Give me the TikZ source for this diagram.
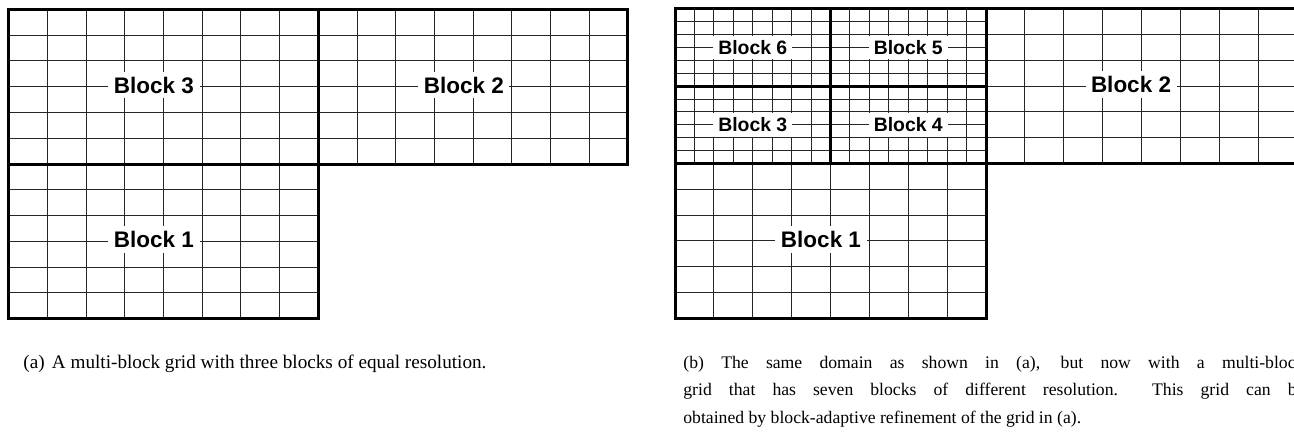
\documentclass[tikz,border=0pt]{standalone}
\usepackage{fontspec}
\setmainfont{Liberation Serif}
\newfontfamily\labelfont{Liberation Sans}
\usepackage{tikz}

% one block of the mesh: x0, y0, width, height, columns, rows
\newcommand{\meshblock}[6]{%
  \foreach \i in {1,...,#5}
    \draw[meshline] ({#1+\i*#3/#5},#2) -- ++(0,#4);
  \foreach \j in {1,...,#6}
    \draw[meshline] (#1,{#2+\j*#4/#6}) -- ++(#3,0);
  \draw[blockline] (#1,#2) rectangle ++(#3,#4);
}

\begin{document}
\begin{tikzpicture}[
    x=0.5pt, y=-0.5pt,
    meshline/.style={draw=black!85, line width=0.5pt},
    blockline/.style={draw=black, line width=1.5pt},
    biglabel/.style={fill=white, inner xsep=2.75pt, inner ysep=2.6pt,
                     font=\labelfont\bfseries\fontsize{11.25}{13}\selectfont},
    smalllabel/.style={fill=white, inner xsep=2.5pt, inner ysep=2.3pt,
                       font=\labelfont\bfseries\fontsize{9.7}{11}\selectfont},
    caption/.style={inner sep=0pt, font=\fontsize{9.6}{13.75}\selectfont}
]
    \clip (0,0) rectangle (1294,433);

    % (a) three blocks, equal resolution
    \meshblock{8.7}{9.3}{309.6}{154.7}{8}{6}
    \meshblock{318.3}{9.3}{309.6}{154.7}{8}{6}
    \meshblock{8.7}{164}{309.6}{154.7}{8}{6}
    \node[biglabel] (a3) at (154,85) {Block 3};
    \node[biglabel] (a2) at (463.8,85) {Block 2};
    \node[biglabel] (a1) at (154,239.7) {Block 1};

    % (b) block 3 of (a) split into four finer blocks
    \meshblock{675}{9}{155.5}{77.25}{8}{6}
    \meshblock{830.5}{9}{155.5}{77.25}{8}{6}
    \meshblock{675}{86.25}{155.5}{77.25}{8}{6}
    \meshblock{830.5}{86.25}{155.5}{77.25}{8}{6}
    \meshblock{986}{9}{311}{154.5}{8}{6}
    \meshblock{675}{163.5}{311}{154.5}{8}{6}
    \node[smalllabel] (b6) at (752.75,47.6) {Block 6};
    \node[smalllabel] (b5) at (908.25,47.6) {Block 5};
    \node[smalllabel] (b3) at (752.75,124.9) {Block 3};
    \node[smalllabel] (b4) at (908.25,124.9) {Block 4};
    \node[biglabel] (b2) at (1131,84.7) {Block 2};
    \node[biglabel] (b1) at (821,239.2) {Block 1};

    % captions
    \node[caption, anchor=base west] (capa) at (23,368)
        {(a)\hspace{0.375em}A multi-block grid with three blocks of equal resolution.};
    \node[caption, anchor=north west, text width=310.5pt, align=justify,
          font=\fontsize{8.83}{13.75}\selectfont] (capb) at (683,355.7)
        {(b) The same domain as shown in (a), but now with a multi-block\linebreak
         grid that has seven blocks of different resolution.\ \ This grid can be\linebreak
         obtained by block-adaptive refinement of the grid in (a).};
\end{tikzpicture}
\end{document}
